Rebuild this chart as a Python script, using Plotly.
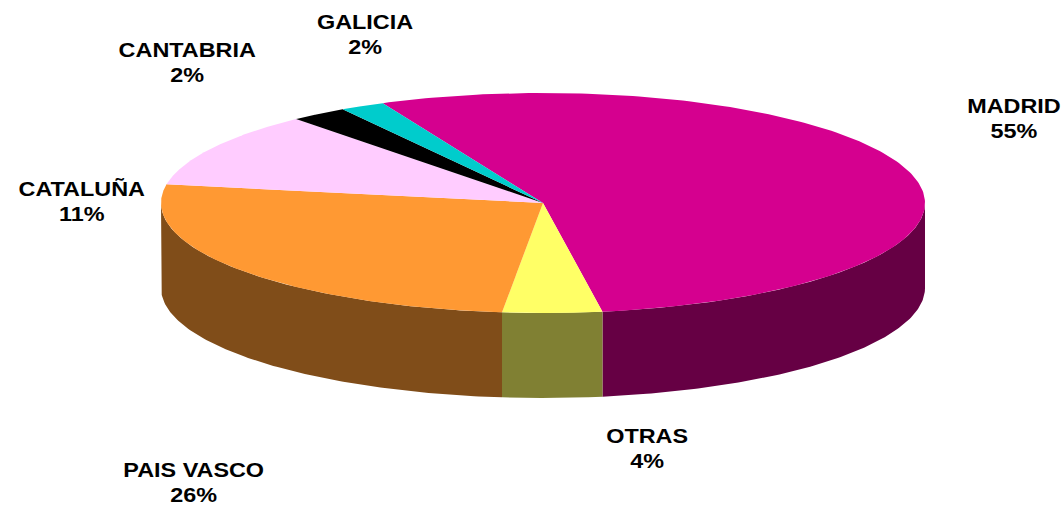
import numpy as np
import plotly.graph_objects as go

categories = ["MADRID", "OTRAS", "PAIS VASCO", "CATALUÑA", "CANTABRIA", "GALICIA"]
values = [54.4, 4.2, 26.0, 11.1, 2.4, 1.9]
labels_pct = ["55%", "4%", "26%", "11%", "2%", "2%"]
top_colors = ["#D5008F", "#FFFF66", "#FF9933", "#FFCCFF", "#000000", "#00CCCC"]
side_colors = ["#660044", "#808033", "#804D19", "#806680", "#000000", "#006666"]
label_x = [1014, 647, 193, 81, 187, 365]
label_y = [118, 448, 482, 201, 62, 34]

CX, CY, RX, RY, DEPTH = 543, 203, 382, 110, 85
START = -24.8

def pt(t_deg):
    t = np.radians(t_deg)
    return CX + RX * np.sin(t), CY - RY * np.cos(t)

fig = go.Figure()
angles = START + np.concatenate([[0], np.cumsum(values)]) * 360 / sum(values)

# side walls
for a0, a1, col in zip(angles[:-1], angles[1:], side_colors):
    lo, hi = max(a0, 90), min(a1, 270)
    if hi <= lo:
        continue
    ts = np.linspace(lo, hi, 120)
    x, y = pt(ts)
    fig.add_trace(go.Scatter(
        x=np.concatenate([x, x[::-1]]), y=np.concatenate([y, y[::-1] + DEPTH]),
        fill="toself", fillcolor=col, mode="lines", line=dict(width=0, color=col),
        hoverinfo="skip", showlegend=False))

# top slices
for a0, a1, col, name in zip(angles[:-1], angles[1:], top_colors, categories):
    ts = np.linspace(a0, a1, 200)
    x, y = pt(ts)
    fig.add_trace(go.Scatter(
        x=np.concatenate([[CX], x, [CX]]), y=np.concatenate([[CY], y, [CY]]),
        fill="toself", fillcolor=col, mode="lines", line=dict(width=0, color=col),
        name=name, showlegend=False))

for c, p, lx, ly in zip(categories, labels_pct, label_x, label_y):
    fig.add_annotation(x=lx, y=ly, text=f"<b>{c}</b><br><b>{p}</b>", showarrow=False,
                       font=dict(family="Liberation Sans", size=19.5, color="#000000"),
                       align="center", xanchor="center", yanchor="middle")

fig.update_layout(
    width=1064, height=508, margin=dict(l=0, r=0, t=0, b=0),
    paper_bgcolor="#FFFFFF", plot_bgcolor="#FFFFFF",
    xaxis=dict(range=[0, 1064], visible=False, fixedrange=True),
    yaxis=dict(range=[508, 0], visible=False, fixedrange=True),
)
post = """
document.body.style.margin='0';document.body.style.overflow='hidden';
document.querySelectorAll('text.annotation-text').forEach(function(t){
  var b=t.getBBox(), cx=b.x+b.width/2;
  t.setAttribute('transform','translate('+cx+',0) scale(1.2,1) translate('+(-cx)+',0)');
});
"""
fig.write_html("out.html", config={"displayModeBar": False}, post_script=post)
